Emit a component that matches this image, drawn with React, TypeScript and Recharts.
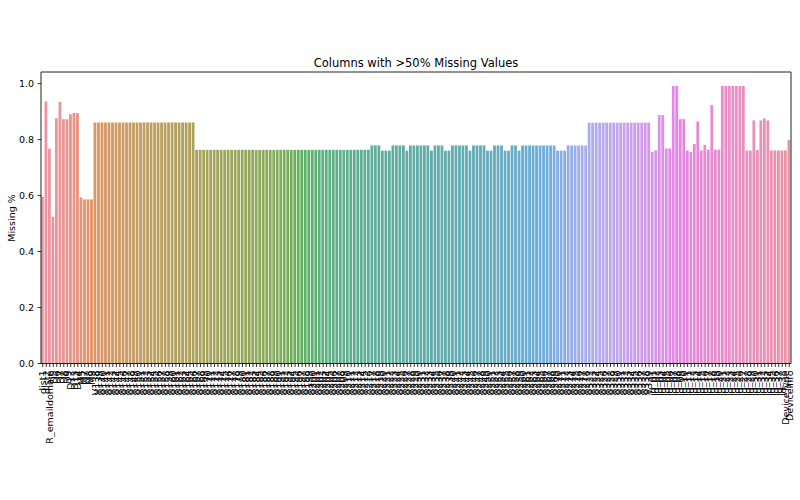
import React from 'react';
import { Bar, BarChart, Cell, ReferenceLine, XAxis, YAxis } from 'recharts';

// columns with more than half of their values missing
const baseCols = ['dist1', 'dist2', 'R_emaildomain', 'D5', 'D6', 'D7', 'D8', 'D9', 'D12', 'D13', 'D14', 'M5', 'M7', 'M8', 'M9'];
const baseMissing = [0.5965, 0.9363, 0.7675, 0.5247, 0.8761, 0.9341, 0.8731, 0.8731, 0.8904, 0.8951, 0.8947, 0.5935, 0.5864, 0.5863, 0.5863];

const vColsA = 'V138 V139 V140 V141 V142 V143 V144 V145 V146 V147 V148 V149 V150 V151 V152 V153 V154 V155 V156 V157 V158 V159 V160 V161 V162 V163 V164 V165 V166'.split(' ');
const vMissingA = [
  0.8612, 0.8612, 0.8612, 0.8612, 0.8612, 0.8612, 0.8612, 0.8612, 0.8612, 0.8612,
  0.8612, 0.8612, 0.8612, 0.8612, 0.8612, 0.8612, 0.8612, 0.8612, 0.8612, 0.8612,
  0.8612, 0.8612, 0.8612, 0.8612, 0.8612, 0.8612, 0.8612, 0.8612, 0.8612,
];

const vColsB = ('V167 V168 V169 V170 V171 V172 V173 V174 V175 V176 V177 V178 V179 V180 V181 V182 V183 V184 V185 V186 ' +
  'V187 V188 V189 V190 V191 V192 V193 V194 V195 V196 V197 V198 V199 V200 V201 V202 V203 V204 V205 V206 ' +
  'V207 V208 V209 V210 V211 V212 V213 V214 V215 V216').split(' ');
const vMissingB = [
  0.7636, 0.7636, 0.7632, 0.7632, 0.7632, 0.7636, 0.7636, 0.7632, 0.7632, 0.7636,
  0.7636, 0.7636, 0.7636, 0.7632, 0.7636, 0.7636, 0.7636, 0.7632, 0.7632, 0.7636,
  0.7636, 0.7632, 0.7632, 0.7636, 0.7636, 0.7636, 0.7636, 0.7632, 0.7632, 0.7636,
  0.7632, 0.7632, 0.7636, 0.7632, 0.7632, 0.7636, 0.7636, 0.7636, 0.7636, 0.7636,
  0.7636, 0.7632, 0.7632, 0.7632, 0.7636, 0.7636, 0.7636, 0.7636, 0.7636, 0.7636,
];

const vColsC = ('V217 V218 V219 V220 V221 V222 V223 V224 V225 V226 V227 V228 V229 V230 V231 V232 V233 V234 V235 V236 ' +
  'V237 V238 V239 V240 V241 V242 V243 V244 V245 V246 V247 V248 V249 V250 V251 V252 V253 V254 V255 V256 ' +
  'V257 V258 V259 V260 V261 V262 V263 V264 V265 V266 V267 V268 V269 V270 V271 V272 V273 V274 V275 V276 ' +
  'V277 V278').split(' ');
const vMissingC = [
  0.7791, 0.7791, 0.7791, 0.7605, 0.7605, 0.7605, 0.7791, 0.7791, 0.7791, 0.7791,
  0.7605, 0.7791, 0.7791, 0.7791, 0.7791, 0.7791, 0.7791, 0.7605, 0.7791, 0.7791,
  0.7791, 0.7605, 0.7605, 0.7791, 0.7791, 0.7791, 0.7791, 0.7791, 0.7605, 0.7791,
  0.7791, 0.7791, 0.7791, 0.7605, 0.7605, 0.7791, 0.7791, 0.7791, 0.7605, 0.7605,
  0.7791, 0.7791, 0.7605, 0.7791, 0.7791, 0.7791, 0.7791, 0.7791, 0.7791, 0.7791,
  0.7791, 0.7791, 0.7791, 0.7605, 0.7605, 0.7605, 0.7791, 0.7791, 0.7791, 0.7791,
  0.7791, 0.7791,
];

const vColsD = 'V322 V323 V324 V325 V326 V327 V328 V329 V330 V331 V332 V333 V334 V335 V336 V337 V338 V339'.split(' ');
const vMissingD = [
  0.8605, 0.8605, 0.8605, 0.8605, 0.8605, 0.8605, 0.8605, 0.8605, 0.8605, 0.8605,
  0.8605, 0.8605, 0.8605, 0.8605, 0.8605, 0.8605, 0.8605, 0.8605,
];

const idCols = ('id_01 id_02 id_03 id_04 id_05 id_06 id_07 id_08 id_09 id_10 id_11 id_12 id_13 id_14 id_15 id_16 id_17 id_18 id_19 id_20 ' +
  'id_21 id_22 id_23 id_24 id_25 id_26 id_27 id_28 id_29 id_30 id_31 id_32 id_33 id_34 id_35 id_36 id_37 id_38 DeviceType DeviceInfo').split(' ');
const idMissing = [
  0.7558, 0.7615, 0.8877, 0.8877, 0.7682, 0.7682, 0.9913, 0.9913, 0.8731, 0.8731,
  0.7613, 0.7558, 0.7844, 0.8645, 0.7613, 0.7810, 0.7640, 0.9236, 0.7641, 0.7642,
  0.9913, 0.9912, 0.9912, 0.9920, 0.9913, 0.9913, 0.9912, 0.7613, 0.7613, 0.8687,
  0.7625, 0.8686, 0.8759, 0.8682, 0.7613, 0.7613, 0.7613, 0.7613, 0.7616, 0.7991,
];

const yTicks = [0, 0.2, 0.4, 0.6, 0.8, 1.0];
const yMax = 1.0416;

const columns = [...baseCols, ...vColsA, ...vColsB, ...vColsC, ...vColsD, ...idCols];
const missing = [...baseMissing, ...vMissingA, ...vMissingB, ...vMissingC, ...vMissingD, ...idMissing];
const rows = columns.map((name, i) => ({ name, missing: missing[i] }));

// seaborn husl palette (h=.01, s=.9, l=.65) desaturated to 0.75
const M = [
  [3.240969941904521, -1.537383177570093, -0.498610760293],
  [-0.96924363628087, 1.87596750150772, 0.041555057407175],
  [0.055630079696993, -0.20397695888897, 1.056971514242878],
];

function maxChroma(L: number, H: number) {
  const hr = (H / 180) * Math.PI;
  const sub1 = Math.pow(L + 16, 3) / 1560896;
  const sub2 = sub1 > 0.0088564516 ? sub1 : L / 903.2962962;
  let best = Infinity;
  for (const [m1, m2, m3] of M) {
    for (const t of [0, 1]) {
      const top1 = (284517 * m1 - 94839 * m3) * sub2;
      const top2 = (838422 * m3 + 769860 * m2 + 731718 * m1) * L * sub2 - 769860 * t * L;
      const bottom = (632260 * m3 - 126452 * m2) * sub2 + 126452 * t;
      const len = (top2 / bottom) / (Math.sin(hr) - (top1 / bottom) * Math.cos(hr));
      if (len >= 0) best = Math.min(best, len);
    }
  }
  return best;
}

function huslColor(H: number, S: number, L: number) {
  const C = (maxChroma(L, H) / 100) * S;
  const hr = (H / 180) * Math.PI;
  const U = Math.cos(hr) * C;
  const V = Math.sin(hr) * C;
  const Y = L <= 8 ? L / 903.2962962 : Math.pow((L + 16) / 116, 3);
  const vu = U / (13 * L) + 0.19783000664283;
  const vv = V / (13 * L) + 0.46831999493879;
  const X = -(9 * Y * vu) / ((vu - 4) * vv - vu * vv);
  const Z = (9 * Y - 15 * vv * Y - vv * X) / (3 * vv);
  const rgb = M.map(([a, b, c]) => {
    const lin = a * X + b * Y + c * Z;
    const v = lin <= 0.0031308 ? 12.92 * lin : 1.055 * Math.pow(lin, 1 / 2.4) - 0.055;
    return Math.min(1, Math.max(0, v));
  });
  // desaturate in HLS space by 0.75
  const l = (Math.max(...rgb) + Math.min(...rgb)) / 2;
  const out = rgb.map((c) => Math.round((l + 0.75 * (c - l)) * 255));
  return `rgb(${out[0]},${out[1]},${out[2]})`;
}

const colors = columns.map((_, i) => huslColor(((i / columns.length + 0.01) % 1) * 359, 0.9 * 99, 0.65 * 99));

const FONT = 'DejaVu Sans, sans-serif';
const FRAME = '#222';

function RotatedTick(props: any) {
  const { x, y, payload } = props;
  return (
    <text
      x={x}
      y={y}
      transform={`rotate(-90 ${x} ${y})`}
      textAnchor="end"
      dy="0.35em"
      fontSize={9.5}
      fontFamily={FONT}
      fill="#000"
    >
      {payload.value}
    </text>
  );
}

export default function App() {
  const plotWidth = 750;
  const barSize = (plotWidth / columns.length) * 0.8;

  return (
    <div style={{ position: 'absolute', left: 0, top: 0, width: 800, height: 500, background: '#fff', fontFamily: FONT }}>
      <div
        style={{
          position: 'absolute',
          left: 41,
          width: plotWidth,
          top: 56,
          textAlign: 'center',
          fontSize: 11.5,
          color: '#000',
          whiteSpace: 'nowrap',
        }}
      >
        Columns with &gt;50% Missing Values
      </div>
      <div
        style={{
          position: 'absolute',
          left: 11,
          top: 218,
          transform: 'translate(-50%, -50%) rotate(-90deg)',
          fontSize: 9.5,
          color: '#000',
          whiteSpace: 'nowrap',
        }}
      >
        Missing %
      </div>
      <BarChart
        width={800}
        height={500}
        data={rows}
        margin={{ top: 72, right: 9, left: 0, bottom: 0 }}
        style={{ position: 'absolute', left: 0, top: 0 }}
      >
        <XAxis
          dataKey="name"
          interval={0}
          height={136.5}
          tick={<RotatedTick />}
          tickSize={3.5}
          tickMargin={3.5}
          tickLine={{ stroke: '#000', strokeWidth: 0.8 }}
          axisLine={{ stroke: FRAME, strokeWidth: 1 }}
        />
        <YAxis
          domain={[0, yMax]}
          ticks={yTicks}
          width={41}
          tickSize={3.5}
          tickMargin={3.5}
          tickFormatter={(v: number) => v.toFixed(1)}
          tick={{ fill: '#000', fontSize: 9.5, fontFamily: FONT }}
          tickLine={{ stroke: '#000', strokeWidth: 0.8 }}
          axisLine={{ stroke: FRAME, strokeWidth: 1 }}
        />
        <Bar dataKey="missing" barSize={barSize} isAnimationActive={false}>
          {rows.map((r, i) => (
            <Cell key={r.name} fill={colors[i]} fillOpacity={0.85} />
          ))}
        </Bar>
        <ReferenceLine y={yMax} stroke={FRAME} strokeWidth={1} ifOverflow="visible" />
        <ReferenceLine
          x={columns[columns.length - 1]}
          position="end"
          stroke={FRAME}
          strokeWidth={1}
          ifOverflow="visible"
        />
      </BarChart>
    </div>
  );
}
